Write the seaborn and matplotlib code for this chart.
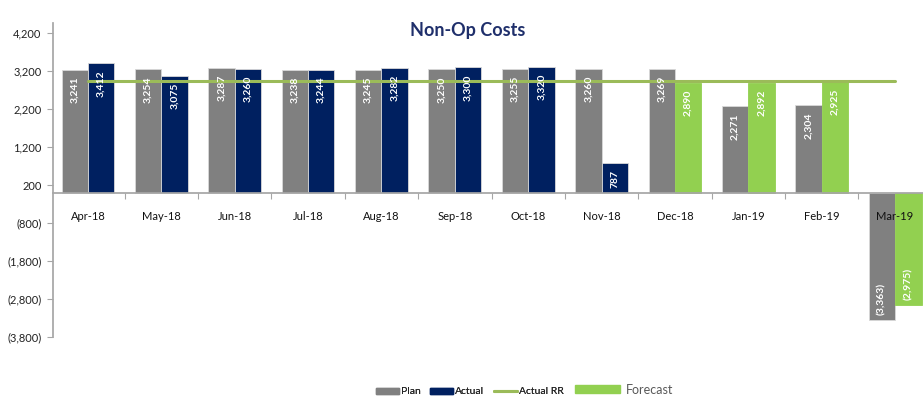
import numpy as np
import pandas as pd
import matplotlib
matplotlib.use("Agg")
import matplotlib.pyplot as plt
import seaborn as sns
from matplotlib.patches import Patch
from matplotlib.lines import Line2D

# Data
months = ["Apr-18", "May-18", "Jun-18", "Jul-18", "Aug-18", "Sep-18",
          "Oct-18", "Nov-18", "Dec-18", "Jan-19", "Feb-19", "Mar-19"]
plan = [3241, 3254, 3287, 3238, 3245, 3250, 3255, 3260, 3269, 2271, 2304, -3363]
actual = [3412, 3075, 3260, 3244, 3282, 3300, 3320, 787,
          np.nan, np.nan, np.nan, np.nan]
forecast = [np.nan] * 8 + [2890, 2892, 2925, -2975]
actual_rr = [2955] * 12
y_ticks = [-3800, -2800, -1800, -800, 200, 1200, 2200, 3200, 4200]

# second series is either Actual or Forecast
second = [a if not np.isnan(a) else f for a, f in zip(actual, forecast)]
second_kind = ["Actual" if not np.isnan(a) else "Forecast" for a in actual]

df = pd.DataFrame({
    "Month": months * 2,
    "Series": ["Plan"] * 12 + ["Second"] * 12,
    "Value": plan + second,
})

c_plan = "#808080"
c_actual = "#002060"
c_fc = "#92D050"
c_rr = "#9BBB59"

sns.set_theme(style="white")
plt.rcParams["font.family"] = ["Lato", "DejaVu Sans"]

fig = plt.figure(figsize=(9.23, 4.04), dpi=100)
ax = fig.add_axes([0.0571, 0.1666, 1.0 - 0.0571, 0.7772])

sns.barplot(data=df, x="Month", y="Value", hue="Series", order=months,
            hue_order=["Plan", "Second"], palette=[c_plan, c_actual],
            width=0.72, gap=0, saturation=1, legend=False, ax=ax,
            edgecolor="#d9d9d9", linewidth=0.6)

# recolor forecast bars and add labels
plan_bars = ax.containers[0]
sec_bars = ax.containers[1]
for bar, kind in zip(sec_bars, second_kind):
    if kind == "Forecast":
        bar.set_facecolor(c_fc)
        bar.set_edgecolor(c_fc)


def fmt(v):
    return f"({abs(v):,.0f})" if v < 0 else f"{v:,.0f}"


for bars, vals in [(plan_bars, plan), (sec_bars, second)]:
    for bar, v in zip(bars, vals):
        if np.isnan(v):
            continue
        x = bar.get_x() + bar.get_width() / 2
        if v >= 0:
            ax.annotate(fmt(v), (x, v), xytext=(0, -5), textcoords="offset points",
                        rotation=90, ha="center", va="top", color="white",
                        fontsize=7.5, fontweight="bold", zorder=4)
        else:
            ax.annotate(fmt(v), (x, v), xytext=(0, 4), textcoords="offset points",
                        rotation=90, ha="center", va="bottom", color="white",
                        fontsize=7.5, fontweight="bold", zorder=4)

# Actual RR line
sns.lineplot(x=list(range(12)), y=actual_rr, color=c_rr, lw=2.2, ax=ax,
             zorder=3)

ax.set_xlim(-0.48, 11.38)
ax.set_ylim(-3800, 4480)
ax.set_yticks(y_ticks)
ax.set_yticklabels([fmt(v) for v in y_ticks])
ax.set_xticks(range(12))
ax.set_xticklabels(months)
ax.set_xlabel("")
ax.set_ylabel("")

ax.spines["top"].set_visible(False)
ax.spines["right"].set_visible(False)
ax.spines["bottom"].set_position(("data", 0))
ax.spines["bottom"].set_color("#a6a6a6")
ax.spines["left"].set_color("#a6a6a6")
ax.spines["left"].set_bounds(-3800, 4480)

ax.tick_params(axis="y", left=True, length=4, width=0.8, color="#a6a6a6",
               pad=4, labelsize=8, labelcolor="#222222")
ax.tick_params(axis="x", bottom=False, pad=7, labelsize=8,
               labelcolor="#111111")
# category boundary ticks on the zero line
ax.set_xticks(np.arange(0.5, 11.5, 1), minor=True)
ax.tick_params(axis="x", which="minor", bottom=True, length=4, width=0.8,
               color="#a6a6a6")
# month labels sit on top of the Mar-19 bars
ax.xaxis.set_zorder(5)

fig.text(0.507, 0.925, "Non-Op Costs", ha="center", va="center",
         fontsize=13, fontweight="bold", color="#1f2f6b")

# legends
h1 = [Patch(color=c_plan, label="Plan"),
      Patch(color=c_actual, label="Actual"),
      Line2D([0], [0], color=c_rr, lw=2.2, label="Actual RR")]
leg1 = fig.legend(handles=h1, loc="center", bbox_to_anchor=(0.509, 0.03),
                  ncol=3, frameon=False, fontsize=7.5, handlelength=2.2,
                  handleheight=0.5, columnspacing=0.9, handletextpad=0.2)
for t in leg1.get_texts():
    t.set_color("#262626")
h2 = [Patch(color=c_fc, label="Forecast")]
leg2 = fig.legend(handles=h2, loc="center", bbox_to_anchor=(0.676, 0.035),
                  frameon=False, fontsize=9, handlelength=3.6,
                  handleheight=0.6, handletextpad=0.5)
for t in leg2.get_texts():
    t.set_color("#595959")
fig.add_artist(leg1)

fig.savefig("out.png", dpi=100)
